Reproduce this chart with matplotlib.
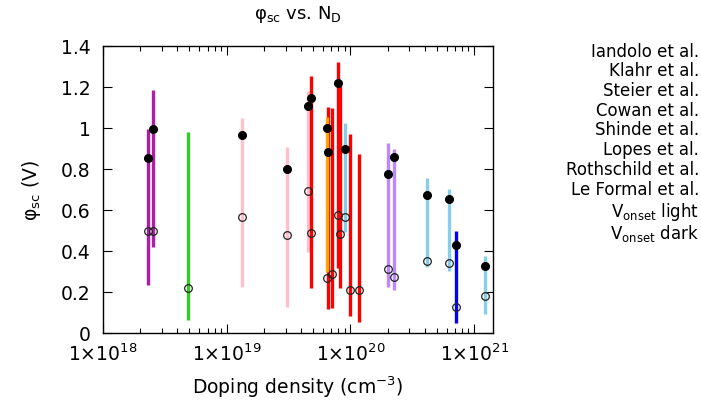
import numpy as np
import matplotlib
matplotlib.use("Agg")
import matplotlib.pyplot as plt
from matplotlib.ticker import LogLocator, FixedLocator, FuncFormatter, NullFormatter

nan = np.nan

studies = ["Iandolo et al.", "Klahr et al.", "Steier et al.", "Cowan et al.",
           "Shinde et al.", "Lopes et al.", "Rothschild et al.", "Le Formal et al."]
colors = ["#b01ba8", "#33cc22", "#ffc0cb", "#ff0000",
          "#ffa500", "#87ceeb", "#bb88ff", "#0000ff"]

# doping density (cm^-3)
nd_iandolo = [2.32e18, 2.55e18]
nd_klahr = [4.87e18]
nd_steier = [1.32e19, 3.06e19, 4.57e19]
nd_cowan = [4.80e19, 6.55e19, 7.06e19, 7.98e19, 8.24e19, 9.93e19, 1.174e20]
nd_shinde = [6.48e19]
nd_lopes = [9.10e19, 4.14e20, 6.27e20, 1.22e21]
nd_rothschild = [2.02e20, 2.23e20]
nd_leformal = [7.10e20]

# phi_sc range (V): lower and upper ends
lo_iandolo = [0.234, 0.421]
hi_iandolo = [0.995, 1.185]
lo_klahr = [0.063]
hi_klahr = [0.982]
lo_steier = [0.226, 0.128, 0.394]
hi_steier = [1.05, 0.906, 1.179]
lo_cowan = [0.218, 0.117, 0.12, 0.315, 0.218, 0.081, 0.052]
hi_cowan = [1.252, 1.104, 1.10, 1.32, 1.206, 0.971, 0.873]
lo_shinde = [0.296]
hi_shinde = [1.055]
lo_lopes = [0.491, 0.32, 0.302, 0.094]
hi_lopes = [1.024, 0.755, 0.704, 0.374]
lo_rothschild = [0.223, 0.208]
hi_rothschild = [0.925, 0.898]
lo_leformal = [0.05]
hi_leformal = [0.50]

# phi_sc estimated from onset potential, light and dark
light_iandolo = [0.854, 0.995]
dark_iandolo = [0.497, 0.497]
light_klahr = [nan]
dark_klahr = [0.22]
light_steier = [0.967, 0.798, 1.109]
dark_steier = [0.567, 0.478, 0.691]
light_cowan = [1.146, 0.881, nan, 1.22, nan, nan, nan]
dark_cowan = [0.486, nan, 0.288, 0.574, 0.485, 0.211, 0.211]
light_shinde = [1.0]
dark_shinde = [0.268]
light_lopes = [0.898, 0.673, 0.652, 0.325]
dark_lopes = [0.566, 0.353, 0.343, 0.179]
light_rothschild = [0.777, 0.86]
dark_rothschild = [0.31, 0.273]
light_leformal = [0.428]
dark_leformal = [0.125]

nd_all = [nd_iandolo, nd_klahr, nd_steier, nd_cowan, nd_shinde, nd_lopes, nd_rothschild, nd_leformal]
lo_all = [lo_iandolo, lo_klahr, lo_steier, lo_cowan, lo_shinde, lo_lopes, lo_rothschild, lo_leformal]
hi_all = [hi_iandolo, hi_klahr, hi_steier, hi_cowan, hi_shinde, hi_lopes, hi_rothschild, hi_leformal]
light_all = [light_iandolo, light_klahr, light_steier, light_cowan, light_shinde, light_lopes, light_rothschild, light_leformal]
dark_all = [dark_iandolo, dark_klahr, dark_steier, dark_cowan, dark_shinde, dark_lopes, dark_rothschild, dark_leformal]

fig = plt.figure(figsize=(7.01, 4.06), dpi=100)
ax = fig.add_axes([103 / 701, 1 - 334 / 406, 390 / 701, 287 / 406])

for i, (nd, lo, hi, c) in enumerate(zip(nd_all, lo_all, hi_all, colors)):
    ax.vlines(nd, lo, hi, colors=c, linewidth=2.4, zorder=2 + i * 0.01)

for nd, light, dark in zip(nd_all, light_all, dark_all):
    ax.plot(nd, light, "o", color="black", markersize=5.5, zorder=5, linestyle="none")
    ax.plot(nd, dark, "o", markerfacecolor="none", markeredgecolor="#222222",
            markeredgewidth=0.9, markersize=5.5, zorder=5, linestyle="none")

ax.set_xscale("log")
ax.set_xlim(1e18, 1.42e21)
ax.set_ylim(0, 1.4)

ax.xaxis.set_major_locator(FixedLocator([1e18, 1e19, 1e20, 1e21]))
ax.xaxis.set_minor_locator(LogLocator(base=10, subs=np.arange(2, 10), numticks=20))
ax.xaxis.set_minor_formatter(NullFormatter())
ax.xaxis.set_major_formatter(FuncFormatter(lambda v, p: r"1$\times$10$^{%d}$" % round(np.log10(v))))
ax.yaxis.set_major_locator(FixedLocator(np.arange(0, 1.41, 0.2)))
ax.yaxis.set_major_formatter(FuncFormatter(lambda v, p: ("%g" % round(v, 1))))

ax.tick_params(which="both", direction="in", top=True, right=True, labelsize=13.5)
ax.tick_params(axis="x", pad=7)
ax.tick_params(axis="y", pad=9)
ax.tick_params(which="major", length=6.5, width=0.8)
ax.tick_params(which="minor", length=3.5, width=0.8)
for s in ax.spines.values():
    s.set_linewidth(1.0)

ax.set_xlabel("Doping density (cm$^{-3}$)", fontsize=13.5, labelpad=7)
ax.set_ylabel("φ$_{\\rm sc}$ (V)", fontsize=13.5, labelpad=13)
ax.set_title("φ$_{\\rm sc}$ vs. N$_{\\rm D}$", fontsize=13, pad=20)

labels = studies + ["V$_{\\rm onset}$ light", "V$_{\\rm onset}$ dark"]
ys = [52, 71.5, 91, 111, 130.5, 150, 170, 190, 212, 234]
for lab, y in zip(labels, ys):
    fig.text(699 / 701, 1 - y / 406, lab, ha="right", va="center", fontsize=12)

fig.savefig("out.png", dpi=100)
